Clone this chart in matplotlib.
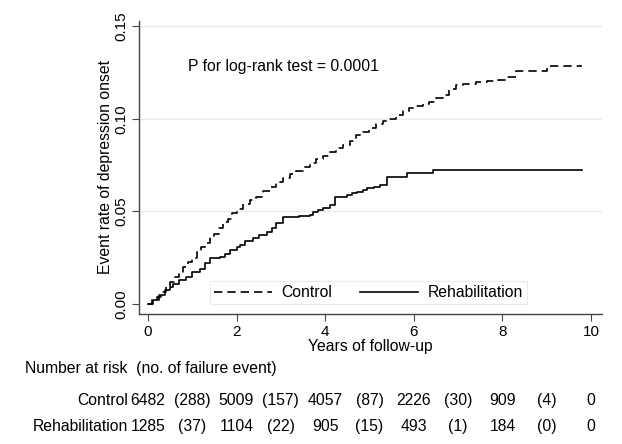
import numpy as np
import matplotlib.pyplot as plt
from matplotlib.transforms import blended_transform_factory

plt.rcParams['font.family'] = ['Liberation Sans', 'DejaVu Sans']
plt.rcParams['font.size'] = 11.3

# cumulative event rate
ctrl_t = [0, 0.1, 0.2, 0.3, 0.4, 0.5, 0.6, 0.7, 0.8, 0.9, 1.0, 1.1, 1.2, 1.3, 1.4, 1.5,
          1.6, 1.7, 1.8, 1.9, 2.0,
          2.15, 2.3, 2.45, 2.6, 2.75, 2.9, 3.05, 3.2, 3.35, 3.5, 3.65, 3.8, 3.95, 4.1,
          4.25, 4.4, 4.55, 4.7, 4.85, 5.0, 5.15, 5.3, 5.45, 5.6, 5.75, 5.9, 6.05, 6.2,
          6.35, 6.5, 6.65, 6.8, 6.95, 7.1,
          7.4, 7.65, 7.9, 8.1, 8.3, 8.9, 9.0, 9.8]
ctrl_y = [0, 0.002, 0.004, 0.0065, 0.009, 0.012, 0.0145, 0.017, 0.020, 0.0225, 0.025,
          0.028, 0.031, 0.033, 0.036, 0.038, 0.041, 0.044, 0.046, 0.049, 0.051,
          0.054, 0.056, 0.058, 0.061, 0.063, 0.066, 0.068, 0.070, 0.072, 0.074, 0.076,
          0.078, 0.080, 0.082, 0.084, 0.086, 0.088, 0.091, 0.093, 0.095, 0.097, 0.099,
          0.100, 0.102, 0.104, 0.106, 0.107, 0.108, 0.109, 0.111, 0.113, 0.116, 0.118,
          0.119,
          0.120, 0.1205, 0.121, 0.1225, 0.1255, 0.126, 0.1285, 0.1285]
rehab_t = [0, 0.12, 0.25, 0.38, 0.5, 0.57, 0.7, 0.87, 1.0, 1.17,
           1.3, 1.4, 1.63, 1.75, 1.85, 2.0, 2.08, 2.2, 2.38, 2.5,
           2.68, 2.8, 2.9, 3.05, 3.4, 3.66, 3.73, 3.85, 3.96, 4.11,
           4.22, 4.49, 4.6, 4.71, 4.85, 4.94, 5.1, 5.24, 5.39, 5.84,
           6.44, 9.8]
rehab_y = [0, 0.002, 0.005, 0.0075, 0.009, 0.011, 0.013, 0.0147, 0.017, 0.019,
           0.022, 0.0247, 0.0255, 0.027, 0.029, 0.031, 0.032, 0.034, 0.0355, 0.037,
           0.039, 0.041, 0.0435, 0.0468, 0.0475, 0.048, 0.0498, 0.0505, 0.0516, 0.0534,
           0.058, 0.0588, 0.0597, 0.0606, 0.0615, 0.0624, 0.0632, 0.0642, 0.0687, 0.0705,
           0.0723, 0.0723]

risk_x = [0, 2, 4, 6, 8, 10]
fail_x = [1, 3, 5, 7, 9]
ctrl_risk = ['6482', '5009', '4057', '2226', '909', '0']
ctrl_fail = ['(288)', '(157)', '(87)', '(30)', '(4)']
rehab_risk = ['1285', '1104', '905', '493', '184', '0']
rehab_fail = ['(37)', '(22)', '(15)', '(1)', '(0)']

fig = plt.figure(figsize=(6.22, 4.44), dpi=100)
ax = fig.add_axes([0.2235, 0.2928, 0.7445, 0.661])

ax.step(ctrl_t, ctrl_y, where='post', color='black', lw=1.2, dashes=(5, 3), label='Control')
ax.step(rehab_t, rehab_y, where='post', color='black', lw=1.2, label='Rehabilitation')

ax.set_xlim(-0.2, 10.25)
ax.set_ylim(-0.0054, 0.153)
ax.set_xticks([0, 2, 4, 6, 8, 10])
ax.set_yticks([0, 0.05, 0.10, 0.15])
ax.set_yticklabels(['0.00', '0.05', '0.10', '0.15'], rotation=90, va='center')
for y in [0.05, 0.10, 0.15]:
    ax.axhline(y, color='#ebebeb', lw=1, zorder=0)

for s in ['top', 'right']:
    ax.spines[s].set_visible(False)
for s in ['left', 'bottom']:
    ax.spines[s].set_color('#444444')
    ax.spines[s].set_linewidth(1.0)
ax.tick_params(direction='out', length=5, color='#444444', labelsize=11, pad=3)

ax.set_xlabel('Years of follow-up', labelpad=0)
ax.set_ylabel('Event rate of depression onset', labelpad=1)

ax.text(0.9, 0.128, 'P for log-rank test = 0.0001', va='center', ha='left')

leg = ax.legend(ncol=2, loc='lower left', bbox_to_anchor=(0.153, 0.034), handlelength=3.7,
                frameon=True, fancybox=False, edgecolor='#e6e6e6', borderpad=0.25,
                columnspacing=1.8, handletextpad=0.6, borderaxespad=0)
leg.get_frame().set_linewidth(0.8)

# number at risk table
tr = blended_transform_factory(ax.transData, fig.transFigure)
fig.text(25 / 622, 1 - 368 / 444, 'Number at risk  (no. of failure event)', va='center')
row_y = [1 - 400 / 444, 1 - 426 / 444]
for y, name, risk, fail in [(row_y[0], 'Control', ctrl_risk, ctrl_fail),
                            (row_y[1], 'Rehabilitation', rehab_risk, rehab_fail)]:
    fig.text(128 / 622, y, name, ha='right', va='center')
    for x, v in zip(risk_x, risk):
        ax.text(x, y, v, transform=tr, ha='center', va='center', clip_on=False)
    for x, v in zip(fail_x, fail):
        ax.text(x, y, v, transform=tr, ha='center', va='center', clip_on=False)

fig.savefig('out.png', dpi=100)
